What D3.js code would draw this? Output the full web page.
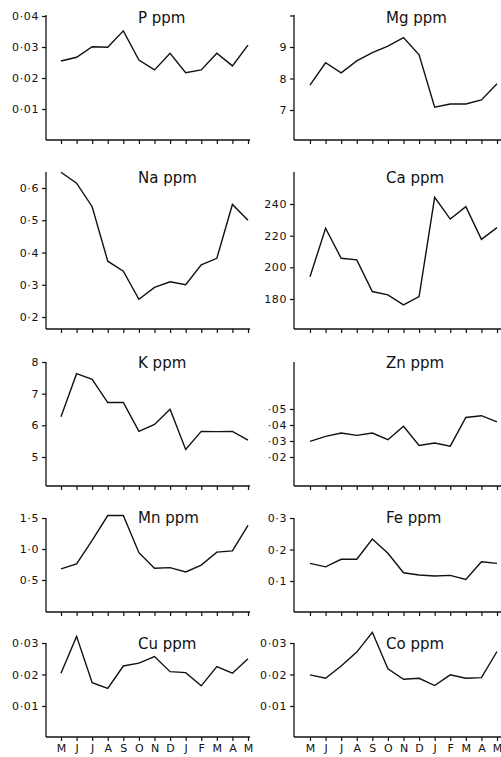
<!DOCTYPE html>
<html>
<head>
<meta charset="utf-8">
<script src="https://cdn.jsdelivr.net/npm/d3@7"></script>
<style>
  body { margin: 0; background: #fff; }
  svg { display: block; }
  .tick text { font-family: "DejaVu Sans", sans-serif; fill: #111; }
  .tick line { stroke: #111; stroke-width: 1.2; }
</style>
</head>
<body>
<div id="chart"></div>
<script>
// months, May to May
var months = ["M","J","J","A","S","O","N","D","J","F","M","A","M"];

// series values (ppm)
var pVals  = [0.0255,0.0267,0.0301,0.0299,0.0352,0.0258,0.0226,0.0280,0.0217,0.0226,0.0280,0.0239,0.0306];
var mgVals = [7.79,8.50,8.18,8.56,8.82,9.03,9.30,8.75,7.09,7.19,7.19,7.32,7.83];
var naVals = [0.649,0.615,0.542,0.373,0.342,0.255,0.292,0.309,0.300,0.362,0.382,0.549,0.500];
var caVals = [194,224.7,205.7,204.7,184.7,182.6,176.3,181.5,244.2,230.5,238.3,217.7,225.1];
var kVals  = [6.27,7.63,7.45,6.72,6.72,5.81,6.03,6.51,5.24,5.81,5.80,5.81,5.53];
var znVals = [0.0298,0.0329,0.0350,0.0335,0.0350,0.0308,0.0392,0.0272,0.0287,0.0268,0.0447,0.0458,0.0420];
var mnVals = [0.68,0.76,1.14,1.54,1.54,0.94,0.69,0.70,0.63,0.74,0.95,0.97,1.38];
var feVals = [0.156,0.145,0.169,0.169,0.233,0.188,0.126,0.119,0.116,0.118,0.105,0.161,0.156];
var cuVals = [0.0204,0.0321,0.0174,0.0156,0.0227,0.0236,0.0257,0.0209,0.0206,0.0164,0.0225,0.0204,0.0250];
var coVals = [0.0199,0.0188,0.0227,0.0271,0.0334,0.0218,0.0185,0.0188,0.0165,0.0199,0.0188,0.0190,0.0273];

// y ticks and their labels
var pTicks  = [0.01,0.02,0.03,0.04], pTickLabels  = ["0·01","0·02","0·03","0·04"];
var mgTicks = [7,8,9,10],            mgTickLabels = ["7","8","9",""];
var naTicks = [0.2,0.3,0.4,0.5,0.6], naTickLabels = ["0·2","0·3","0·4","0·5","0·6"];
var caTicks = [180,200,220,240],     caTickLabels = ["180","200","220","240"];
var kTicks  = [5,6,7,8],             kTickLabels  = ["5","6","7","8"];
var znTicks = [0.02,0.03,0.04,0.05], znTickLabels = ["·02","·03","·04","·05"];
var mnTicks = [0.5,1.0,1.5],         mnTickLabels = ["0·5","1·0","1·5"];
var feTicks = [0.1,0.2,0.3],         feTickLabels = ["0·1","0·2","0·3"];
var cuTicks = [0.01,0.02,0.03],      cuTickLabels = ["0·01","0·02","0·03"];
var coTicks = [0.01,0.02,0.03],      coTickLabels = ["0·01","0·02","0·03"];

/////////////////////////////////////
///      LAYOUT
/////////////////////////////////////
var W = 501, H = 757;
var cols = [ {axisX:46, x0:61, x1:248, end:250}, {axisX:294, x0:310, x1:497, end:501} ];
var rows = [ {top:15,  bottom:140, titleY:23},
             {top:172, bottom:329, titleY:183},
             {top:362, bottom:486, titleY:368},
             {top:518, bottom:612, titleY:523},
             {top:643, bottom:737, titleY:649} ];

var panels = [
  {title:"P ppm",  vals:pVals,  ticks:pTicks,  labels:pTickLabels,  domain:[0,0.04],    range:[140,16],   col:0, row:0},
  {title:"Mg ppm", vals:mgVals, ticks:mgTicks, labels:mgTickLabels, domain:[6,10],      range:[141.5,15.5], col:1, row:0},
  {title:"Na ppm", vals:naVals, ticks:naTicks, labels:naTickLabels, domain:[0.2,0.6],   range:[317,188],  col:0, row:1},
  {title:"Ca ppm", vals:caVals, ticks:caTicks, labels:caTickLabels, domain:[180,240],   range:[299,204],  col:1, row:1},
  {title:"K ppm",  vals:kVals,  ticks:kTicks,  labels:kTickLabels,  domain:[5,8],       range:[457,362],  col:0, row:2},
  {title:"Zn ppm", vals:znVals, ticks:znTicks, labels:znTickLabels, domain:[0.02,0.05], range:[457,409],  col:1, row:2},
  {title:"Mn ppm", vals:mnVals, ticks:mnTicks, labels:mnTickLabels, domain:[0.5,1.5],   range:[580,518],  col:0, row:3},
  {title:"Fe ppm", vals:feVals, ticks:feTicks, labels:feTickLabels, domain:[0.1,0.3],   range:[581,518],  col:1, row:3},
  {title:"Cu ppm", vals:cuVals, ticks:cuTicks, labels:cuTickLabels, domain:[0.01,0.03], range:[706,643],  col:0, row:4},
  {title:"Co ppm", vals:coVals, ticks:coTicks, labels:coTickLabels, domain:[0.01,0.03], range:[706,643],  col:1, row:4}
];

var svg = d3.select("#chart").append("svg")
  .attr("width", W)
  .attr("height", H);

function makePanel(p){
  var c = cols[p.col], r = rows[p.row];
  var x = d3.scalePoint().domain(d3.range(months.length)).range([c.x0, c.x1]);
  var y = d3.scaleLinear().domain(p.domain).range(p.range);
  var g = svg.append("g");

  // axis lines
  g.append("line")
    .attr("x1", c.axisX).attr("x2", c.axisX)
    .attr("y1", r.top).attr("y2", r.bottom)
    .attr("stroke", "#111").attr("stroke-width", 1.3);
  g.append("line")
    .attr("x1", c.axisX).attr("x2", c.end)
    .attr("y1", r.bottom).attr("y2", r.bottom)
    .attr("stroke", "#111").attr("stroke-width", 1.3);

  // y axis
  var yAxis = d3.axisLeft(y)
    .tickValues(p.ticks)
    .tickSize(4)
    .tickPadding(3)
    .tickFormat(function(d,i){ return p.labels[i]; });
  var ya = g.append("g").attr("transform", "translate(" + c.axisX + ",0)").call(yAxis);
  ya.select(".domain").remove();
  ya.selectAll(".tick text").style("font-size", "11px").style("letter-spacing", "0.6px");

  // x axis, labels only on the bottom row
  var xAxis = d3.axisBottom(x)
    .tickSize(4)
    .tickPadding(3)
    .tickFormat(function(i){ return p.row == 4 ? months[i] : ""; });
  var xa = g.append("g").attr("transform", "translate(0," + r.bottom + ")").call(xAxis);
  xa.select(".domain").remove();
  xa.selectAll(".tick text").style("font-size", "11px");

  // series
  var line = d3.line()
    .x(function(d,i){ return x(i); })
    .y(function(d){ return y(d); });
  g.append("path")
    .datum(p.vals)
    .attr("d", line)
    .attr("fill", "none")
    .attr("stroke", "#111")
    .attr("stroke-width", 1.4)
    .attr("stroke-linejoin", "miter");

  // title
  g.append("text")
    .attr("x", c.axisX + 92)
    .attr("y", r.titleY)
    .style("font-family", "DejaVu Sans, sans-serif")
    .style("font-size", "15px")
    .style("fill", "#111")
    .text(p.title);
}

panels.forEach(makePanel);
</script>
</body>
</html>
